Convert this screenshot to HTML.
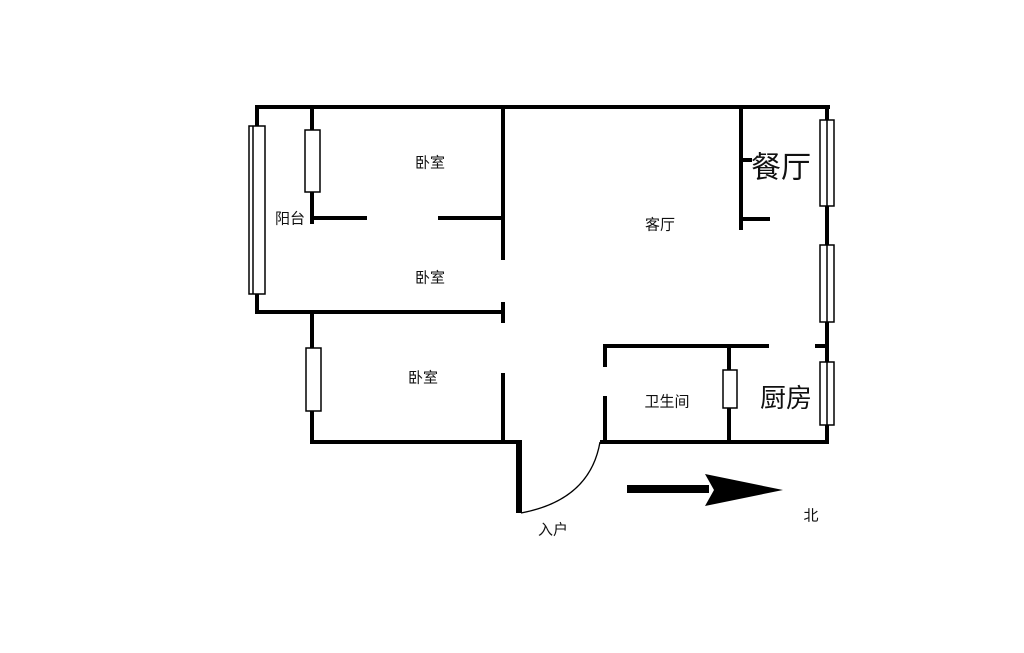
<!DOCTYPE html>
<html><head><meta charset="utf-8"><style>
body{margin:0;background:#fff;}
svg{display:block}
text{font-family:"Liberation Sans","Noto Sans CJK SC",sans-serif;fill:#111;text-anchor:middle;dominant-baseline:central}
</style></head><body>
<svg width="1024" height="653" viewBox="0 0 1024 653">
<g stroke="#000" stroke-width="4" fill="none" stroke-linecap="square">
<line x1="258" y1="107" x2="828" y2="107"/>
<line x1="257" y1="107" x2="257" y2="312"/>
<line x1="312" y1="107" x2="312" y2="222"/>
<line x1="312" y1="218" x2="365" y2="218"/>
<line x1="440" y1="218" x2="503" y2="218"/>
<line x1="503" y1="107" x2="503" y2="258"/>
<line x1="257" y1="312" x2="503" y2="312"/>
<line x1="503" y1="304" x2="503" y2="321"/>
<line x1="312" y1="312" x2="312" y2="442"/>
<line x1="312" y1="442" x2="518" y2="442"/>
<line x1="503" y1="375" x2="503" y2="442"/>
<line x1="827" y1="107" x2="827" y2="442"/>
<line x1="741" y1="107" x2="741" y2="228"/>
<line x1="741" y1="160" x2="750" y2="160"/>
<line x1="741" y1="219" x2="768" y2="219"/>
<line x1="605" y1="346" x2="767" y2="346"/>
<line x1="605" y1="346" x2="605" y2="365"/>
<line x1="605" y1="398" x2="605" y2="442"/>
<line x1="817" y1="346" x2="827" y2="346"/>
<line x1="729" y1="346" x2="729" y2="442"/>
<line x1="602" y1="442" x2="827" y2="442"/>
</g>
<line x1="519" y1="440" x2="519" y2="513" stroke="#000" stroke-width="6"/>
<path d="M521 513 Q590 500 600 442" stroke="#000" stroke-width="1.3" fill="none"/>
<g stroke="#000" stroke-width="1.5" fill="#fff">
<rect x="249" y="126" width="16" height="168"/><line x1="253" y1="126" x2="253" y2="294"/>
<rect x="305" y="130" width="15" height="62"/>
<rect x="306" y="348" width="15" height="63"/>
<rect x="820" y="120" width="14" height="86"/><line x1="827" y1="120" x2="827" y2="206"/>
<rect x="820" y="245" width="14" height="77"/><line x1="827" y1="245" x2="827" y2="322"/>
<rect x="820" y="362" width="14" height="63"/><line x1="827" y1="362" x2="827" y2="425"/>
<rect x="723" y="370" width="14" height="38"/>
</g>
<rect x="627" y="485" width="82" height="8" fill="#000"/>
<polygon points="705,474 783,490 705,506 714,490" fill="#000"/>
<text x="430" y="163" font-size="15">卧室</text>
<text x="430" y="278" font-size="15">卧室</text>
<text x="423" y="378" font-size="15">卧室</text>
<text x="290" y="219" font-size="15">阳台</text>
<text x="660" y="225" font-size="15">客厅</text>
<text x="781" y="168" font-size="30">餐厅</text>
<text x="667" y="402" font-size="15">卫生间</text>
<text x="786" y="398" font-size="26">厨房</text>
<text x="553" y="530" font-size="15">入户</text>
<text x="811" y="516" font-size="15">北</text>
</svg>
</body></html>
